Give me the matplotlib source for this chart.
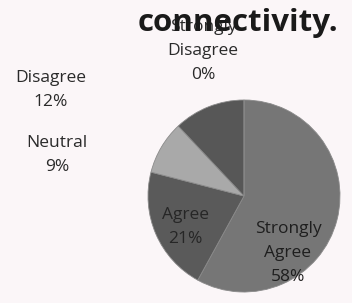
import matplotlib
matplotlib.use("Agg")
import matplotlib.pyplot as plt

# survey responses, clockwise from 12 o'clock
categories = ["Strongly\nAgree", "Agree", "Neutral", "Disagree", "Strongly\nDisagree"]
shares = [58, 21, 9, 12, 0]
colors = ["#767676", "#5a5a5a", "#a9a9a9", "#575757", "#444444"]
title = "connectivity."

BG = "#fbf6f8"
FONT = "Open Sans"

fig = plt.figure(figsize=(3.52, 3.03), dpi=100, facecolor=BG)
ax = fig.add_axes([0, 0, 1, 1])
ax.set_facecolor(BG)

wedges, _ = ax.pie(shares, colors=colors, startangle=90, counterclock=False,
                   center=(244, 107), radius=96, frame=True,
                   wedgeprops=dict(linewidth=0.6, edgecolor="#8a8a8a"))
ax.set_xlim(0, 352)
ax.set_ylim(0, 303)
ax.set_aspect("equal")
ax.axis("off")

# label positions (pixel coords, y from bottom)
label_pos = [(288, 50), (185, 76), (57, 148), (51, 213), (203, 252)]
label_col = ["#1e1e1e", "#262626", "#2a2a2a", "#2a2a2a", "#2a2a2a"]
for cat, val, (x, y), c in zip(categories, shares, label_pos, label_col):
    ax.text(x, y, f"{cat}\n{val}%", ha="center", va="center", fontsize=12.5,
            family=FONT, color=c, linespacing=1.65)

fig.text(0.675, 0.925, title, ha="center", va="center", fontsize=22.5,
         fontweight="bold", family=FONT, color="#1a1a1a")

fig.savefig("out.png", dpi=100, facecolor=BG)
